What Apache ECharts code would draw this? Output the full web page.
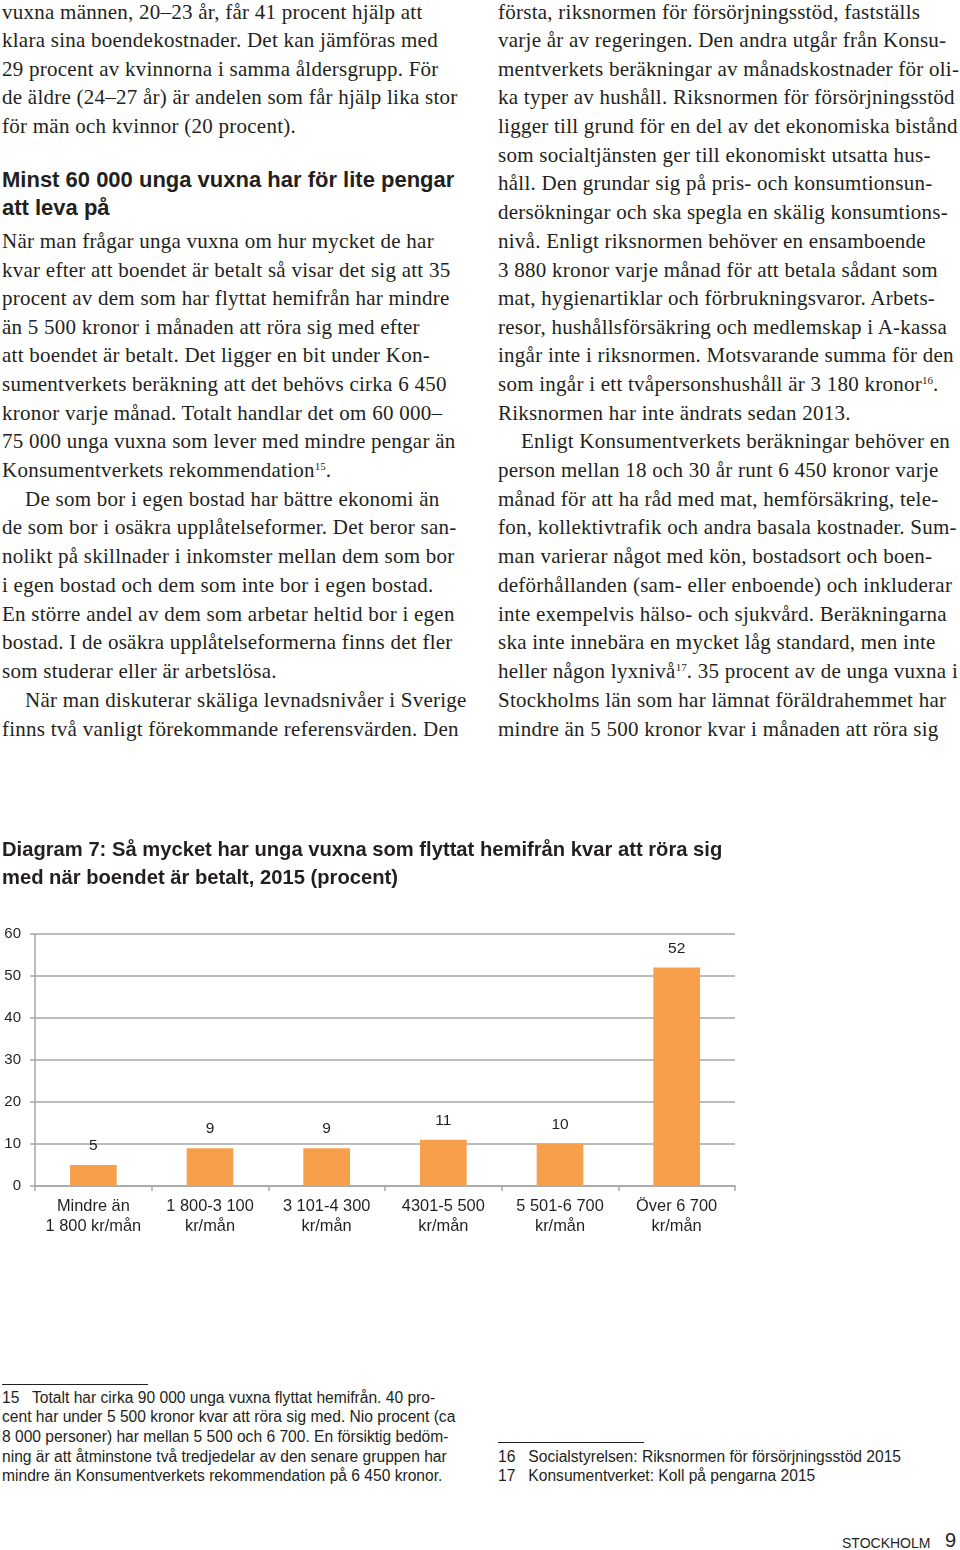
<!DOCTYPE html>
<html>
<head>
    <meta charset="utf-8">
    <title>Diagram 7</title>
    <script src="https://cdn.jsdelivr.net/npm/echarts@6/dist/echarts.min.js"></script>
    <style>
        body { margin: 0; background: #fff; }
        #page { position: relative; width: 960px; height: 1550px; overflow: hidden; color: #231f20; }
        .ln { position: absolute; white-space: nowrap; line-height: 28px; }
        .serif { font-family: "Liberation Serif", "DejaVu Serif", serif; font-size: 21px; letter-spacing: 0.25px; }
        .head { font-family: "Liberation Sans", Arial, sans-serif; font-weight: bold; font-size: 22px; }
        .note { font-family: "Liberation Sans", Arial, sans-serif; font-size: 15.6px; line-height: 20px; }
        sup { font-size: 11px; line-height: 0; vertical-align: 7px; letter-spacing: 0; }
        .rule { position: absolute; height: 1px; background: #231f20; }
        #chart { position: absolute; left: 0; top: 820px; width: 960px; height: 440px; }
    </style>
</head>
<body>
<div id="page">
    <div class="rule" style="left:2px; top:1384px; width:146px;"></div>
    <div class="rule" style="left:498px; top:1442px; width:146px;"></div>
    <div class="ln note" style="left:842px; top:1533px; font-size:14px;">STOCKHOLM</div>
    <div class="ln note" style="left:945px; top:1530px; font-size:20px;">9</div>
    <div id="chart"></div>
</div>
<script type="text/javascript">
    // chart data
    var categories = ['Mindre än\n1 800 kr/mån', '1 800-3 100\nkr/mån', '3 101-4 300\nkr/mån',
        '4301-5 500\nkr/mån', '5 501-6 700\nkr/mån', 'Över 6 700\nkr/mån'];
    var values = [5, 9, 9, 11, 10, 52];
    var yTicks = {min: 0, max: 60, interval: 10};

    // page text: [x, y-center, text]
    var leftText = [
        [2, 13, 'vuxna männen, 20–23 år, får 41 procent hjälp att'],
        [2, 41, 'klara sina boendekostnader. Det kan jämföras med'],
        [2, 70, '29 procent av kvinnorna i samma åldersgrupp. För'],
        [2, 98, 'de äldre (24–27 år) är andelen som får hjälp lika stor'],
        [2, 127, 'för män och kvinnor (20 procent).'],
        [2, 242, 'När man frågar unga vuxna om hur mycket de har'],
        [2, 271, 'kvar efter att boendet är betalt så visar det sig att 35'],
        [2, 299, 'procent av dem som har flyttat hemifrån har mindre'],
        [2, 328, 'än 5 500 kronor i månaden att röra sig med efter'],
        [2, 356, 'att boendet är betalt. Det ligger en bit under Kon-'],
        [2, 385, 'sumentverkets beräkning att det behövs cirka 6 450'],
        [2, 414, 'kronor varje månad. Totalt handlar det om 60 000–'],
        [2, 442, '75 000 unga vuxna som lever med mindre pengar än'],
        [2, 471, 'Konsumentverkets rekommendation<sup>15</sup>.'],
        [25, 500, 'De som bor i egen bostad har bättre ekonomi än'],
        [2, 528, 'de som bor i osäkra upplåtelseformer. Det beror san-'],
        [2, 557, 'nolikt på skillnader i inkomster mellan dem som bor'],
        [2, 586, 'i egen bostad och dem som inte bor i egen bostad.'],
        [2, 615, 'En större andel av dem som arbetar heltid bor i egen'],
        [2, 643, 'bostad. I de osäkra upplåtelseformerna finns det fler'],
        [2, 672, 'som studerar eller är arbetslösa.'],
        [25, 701, 'När man diskuterar skäliga levnadsnivåer i Sverige'],
        [2, 730, 'finns två vanligt förekommande referensvärden. Den']
    ];
    var rightText = [
        [498, 13, 'första, riksnormen för försörjningsstöd, fastställs'],
        [498, 41, 'varje år av regeringen. Den andra utgår från Konsu-'],
        [498, 70, 'mentverkets beräkningar av månadskostnader för oli-'],
        [498, 98, 'ka typer av hushåll. Riksnormen för försörjningsstöd'],
        [498, 127, 'ligger till grund för en del av det ekonomiska bistånd'],
        [498, 156, 'som socialtjänsten ger till ekonomiskt utsatta hus-'],
        [498, 184, 'håll. Den grundar sig på pris- och konsumtionsun-'],
        [498, 213, 'dersökningar och ska spegla en skälig konsumtions-'],
        [498, 242, 'nivå. Enligt riksnormen behöver en ensamboende'],
        [498, 271, '3 880 kronor varje månad för att betala sådant som'],
        [498, 299, 'mat, hygienartiklar och förbrukningsvaror. Arbets-'],
        [498, 328, 'resor, hushållsförsäkring och medlemskap i A-kassa'],
        [498, 356, 'ingår inte i riksnormen. Motsvarande summa för den'],
        [498, 385, 'som ingår i ett tvåpersonshushåll är 3 180 kronor<sup>16</sup>.'],
        [498, 414, 'Riksnormen har inte ändrats sedan 2013.'],
        [521, 442, 'Enligt Konsumentverkets beräkningar behöver en'],
        [498, 471, 'person mellan 18 och 30 år runt 6 450 kronor varje'],
        [498, 500, 'månad för att ha råd med mat, hemförsäkring, tele-'],
        [498, 528, 'fon, kollektivtrafik och andra basala kostnader. Sum-'],
        [498, 557, 'man varierar något med kön, bostadsort och boen-'],
        [498, 586, 'deförhållanden (sam- eller enboende) och inkluderar'],
        [498, 615, 'inte exempelvis hälso- och sjukvård. Beräkningarna'],
        [498, 643, 'ska inte innebära en mycket låg standard, men inte'],
        [498, 672, 'heller någon lyxnivå<sup>17</sup>. 35 procent av de unga vuxna i'],
        [498, 701, 'Stockholms län som har lämnat föräldrahemmet har'],
        [498, 730, 'mindre än 5 500 kronor kvar i månaden att röra sig']
    ];
    var headText = [
        [2, 180, 'Minst 60 000 unga vuxna har för lite pengar'],
        [2, 208, 'att leva på']
    ];
    var noteText = [
        [2, 1398, '15&nbsp;&nbsp; Totalt har cirka 90 000 unga vuxna flyttat hemifrån. 40 pro-'],
        [2, 1417, 'cent har under 5 500 kronor kvar att röra sig med. Nio procent (ca'],
        [2, 1437, '8 000 personer) har mellan 5 500 och 6 700. En försiktig bedöm-'],
        [2, 1457, 'ning är att åtminstone två tredjedelar av den senare gruppen har'],
        [2, 1476, 'mindre än Konsumentverkets rekommendation på 6 450 kronor.'],
        [498, 1457, '16&nbsp;&nbsp; Socialstyrelsen: Riksnormen för försörjningsstöd 2015'],
        [498, 1476, '17&nbsp;&nbsp; Konsumentverket: Koll på pengarna 2015']
    ];

    var page = document.getElementById('page');
    function addLines(list, cls, half) {
        for (var i = 0; i < list.length; i++) {
            var d = document.createElement('div');
            d.className = 'ln ' + cls;
            d.style.left = list[i][0] + 'px';
            d.style.top = (list[i][1] - half) + 'px';
            d.innerHTML = list[i][2];
            page.appendChild(d);
        }
    }
    addLines(leftText, 'serif', 15);
    addLines(rightText, 'serif', 15);
    addLines(headText, 'head', 14);
    addLines(noteText, 'note', 10);

    var chart = echarts.init(document.getElementById('chart'));
    var gridColor = '#a6a6a6';
    var option = {
        animation: false,
        textStyle: {fontFamily: 'Liberation Sans, Arial, sans-serif'},
        title: {
            text: 'Diagram 7: Så mycket har unga vuxna som flyttat hemifrån kvar att röra sig\nmed när boendet är betalt, 2015 (procent)',
            left: 2,
            top: 16,
            padding: 0,
            textStyle: {fontSize: 20.2, fontWeight: 'bold', color: '#231f20', lineHeight: 28}
        },
        grid: {left: 35, right: 225, top: 114, bottom: 74},
        xAxis: {
            type: 'category',
            data: categories,
            axisLine: {lineStyle: {color: gridColor, width: 1.5}},
            axisTick: {show: true, length: 5, lineStyle: {color: gridColor, width: 1.5}},
            axisLabel: {fontSize: 16.4, lineHeight: 20, color: '#231f20', margin: 10, interval: 0}
        },
        yAxis: {
            type: 'value',
            min: yTicks.min,
            max: yTicks.max,
            interval: yTicks.interval,
            axisLine: {show: true, lineStyle: {color: gridColor, width: 1.5}},
            axisTick: {show: true, length: 5, lineStyle: {color: gridColor, width: 1.5}},
            splitLine: {lineStyle: {color: gridColor, width: 1.5}},
            axisLabel: {fontSize: 15, color: '#231f20', margin: 14}
        },
        series: [{
            type: 'bar',
            data: values,
            barWidth: '40%',
            itemStyle: {color: '#F79F4B'},
            label: {show: true, position: 'top', distance: 11, fontSize: 15.5, color: '#231f20'}
        }]
    };
    chart.setOption(option);
</script>
</body>
</html>
